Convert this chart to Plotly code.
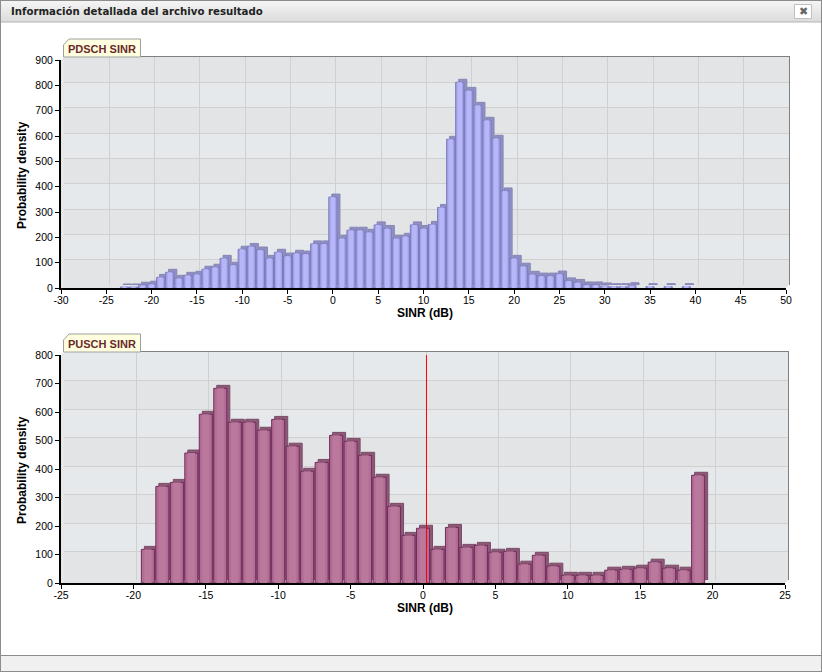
import plotly.graph_objects as go

WINDOW_TITLE = "Información detallada del archivo resultado"
X_TITLE = "SINR (dB)"
Y_TITLE = "Probability density"

# PDSCH SINR histogram
pdsch_sinr = [-23, -22, -21, -20, -19, -18, -17, -16, -15, -14, -13, -12, -11, -10, -9, -8, -7, -6, -5, -4, -3, -2, -1,
              0, 1, 2, 3, 4, 5, 6, 7, 8, 9, 10, 11, 12, 13, 14, 15, 16, 17, 18, 19, 20, 21, 22, 23, 24, 25, 26, 27, 28,
              29, 30, 31, 32, 33, 35, 37, 39]
pdsch_density = [4, 4, 11, 15, 42, 62, 38, 50, 54, 74, 82, 117, 90, 153, 164, 150, 117, 141, 126, 137, 134, 174, 174,
                 359, 196, 228, 228, 220, 249, 235, 196, 204, 249, 235, 251, 318, 587, 812, 780, 721, 662, 591, 383,
                 117, 86, 54, 47, 47, 55, 28, 22, 12, 12, 8, 5, 5, 9, 5, 5, 5]
pdsch_xticks = [-30, -25, -20, -15, -10, -5, 0, 5, 10, 15, 20, 25, 30, 35, 40, 45, 50]
pdsch_xlabels = ["-30", "-25", "-20", "-15", "-10", "-5", "0", "5", "10", "15", "20", "25", "30", "35", "40", "45", "50"]
pdsch_yticks = [0, 100, 200, 300, 400, 500, 600, 700, 800, 900]

# PUSCH SINR histogram
pusch_sinr = [-19, -18, -17, -16, -15, -14, -13, -12, -11, -10, -9, -8, -7, -6, -5, -4, -3, -2, -1,
              0, 1, 2, 3, 4, 5, 6, 7, 8, 9, 10, 11, 12, 13, 14, 15, 16, 17, 18, 19]
pusch_density = [118, 339, 353, 456, 592, 683, 564, 564, 536, 574, 480, 392, 423, 518, 497, 448, 371, 269, 167,
                 192, 118, 195, 125, 132, 108, 111, 66, 97, 59, 27, 27, 27, 45, 48, 52, 73, 52, 45, 378]
pusch_xticks = [-25, -20, -15, -10, -5, 0, 5, 10, 15, 20, 25]
pusch_xlabels = ["-25", "-20", "-15", "-10", "-5", "0", "5", "10", "15", "20", "25"]
pusch_yticks = [0, 100, 200, 300, 400, 500, 600, 700, 800]
pusch_marker_x = [0.24, 0.24]
pusch_marker_y = [0, 810]

W, H = 822, 672
FONT = "Liberation Sans"


def px(x):
    return x / W


def py(y):
    return 1 - y / H


def rect(x0, y0, x1, y1, fill, line=None, width=1):
    return dict(type="rect", xref="paper", yref="paper", x0=px(x0), x1=px(x1), y0=py(y0), y1=py(y1),
                fillcolor=fill, line=dict(color=line or fill, width=width if line else 0), layer="below")


def poly(points, fill, line=None, layer="below"):
    path = "M " + " L ".join(f"{px(a):.5f},{py(b):.5f}" for a, b in points) + " Z"
    return dict(type="path", xref="paper", yref="paper", path=path, fillcolor=fill,
                line=dict(color=line or fill, width=1 if line else 0), layer=layer)


def label(text, x, y, size, color="#000000", family=FONT, angle=0, anchor="center"):
    return dict(text=text, x=px(x), y=py(y), xref="paper", yref="paper", showarrow=False, xanchor=anchor,
                yanchor="middle", textangle=angle, borderpad=0, font=dict(family=family, size=size, color=color))


fig = go.Figure()
shapes = []
annotations = []

# window chrome
shapes.append(rect(0, 0, W, H, "#ffffff"))
for row in range(22):
    v = int(246 - row * 26 / 21)
    shapes.append(rect(1, row, W - 1, row + 1, f"rgb({v},{v},{v})"))
shapes.append(rect(0, 21.5, W, 22.5, "#b4b4b4"))
shapes.append(rect(1, 656, W - 1, 671, "#f0f0f0"))
shapes.append(rect(0, 655, W, 656, "#8c8c8c"))
shapes.append(rect(0, 671, W, 672, "#8c8c8c"))
shapes.append(rect(0, 0, W, 1, "#8c8c8c"))
shapes.append(rect(0, 0, 1, H, "#8c8c8c"))
shapes.append(rect(W - 1, 0, W, H, "#8c8c8c"))
shapes.append(rect(794.5, 4.5, 811.5, 18.5, "#ffffff", "#c0c0c0"))
annotations.append(label("✖", 803, 11.5, 11, "#666666", "DejaVu Sans"))
annotations.append(label(f"<b>{WINDOW_TITLE}</b>", 10, 11.5, 10.2, "#222222", "DejaVu Sans", anchor="left"))


def panel(n, x, y, xticks, xlabels, yticks, tab, tab_top, base, top_px, xr, face, core, edge, back, back_edge):
    wall_x, wall_y = f"x{2 * n - 1}", f"y{2 * n - 1}"
    front_x, front_y = f"x{2 * n}", f"y{2 * n}"
    left, right, bottom = 61, x_right[n], base
    top = top_px

    # bands on the rear wall, alternating between tick values
    for i in range(len(yticks) - 1):
        shapes.append(dict(type="rect", xref=wall_x, yref=wall_y, x0=xticks[0], x1=xticks[-1], y0=yticks[i],
                           y1=yticks[i + 1], fillcolor="#e3e4e6" if i % 2 == 0 else "#e6e9ec",
                           line=dict(width=0), layer="below"))
    # floor and side wall
    shapes.append(poly([(left, bottom), (left + 3, bottom - 3), (right + 3, bottom - 3), (right, bottom)], "#e3e4e6"))
    shapes.append(poly([(left, bottom), (left + 3, bottom - 3), (left + 3, top - 3), (left, top)], "#e6e7e9"))

    fig.add_trace(go.Bar(x=x, y=y, width=0.9, xaxis=wall_x, yaxis=wall_y, showlegend=False,
                         marker=dict(color=back, line=dict(color=back_edge, width=1))))
    fig.add_trace(go.Bar(x=x, y=y, width=0.9, xaxis=front_x, yaxis=front_y, showlegend=False,
                         marker=dict(color=face, line=dict(color=edge, width=1))))
    fig.add_trace(go.Bar(x=x, y=y, width=0.5, xaxis=front_x, yaxis=front_y, showlegend=False,
                         marker=dict(color=core, line=dict(width=0))))

    wall_dom_x = [px(left + 3), px(right + 3)]
    wall_dom_y = [py(bottom - 3), py(top - 3)]
    front_dom_x = [px(left), px(right)]
    front_dom_y = [py(bottom), py(top)]
    key = lambda a: a[0] + "axis" + a[1:]
    common = dict(ticks="", showticklabels=False, showgrid=True, gridcolor="#d0d0d0", gridwidth=1, zeroline=False,
                  showline=True, linecolor="#808080", linewidth=1, automargin=False)
    fig.layout[key(wall_x)] = dict(domain=wall_dom_x, range=xr, tickvals=xticks, side="top", anchor=wall_y, **common)
    fig.layout[key(wall_y)] = dict(domain=wall_dom_y, range=[yticks[0], yticks[-1]], tickvals=yticks, side="right",
                                   anchor=wall_x, **common)
    tick_font = dict(family=FONT, size=10.5, color="#000000")
    fig.layout[key(front_x)] = dict(domain=front_dom_x, range=xr, tickvals=xticks, ticktext=xlabels, anchor=front_y,
                                    ticks="outside", ticklen=4, tickcolor="#000000", tickfont=tick_font, automargin=False,
                                    ticklabelstandoff=-3,
                                    showgrid=False, zeroline=False, showline=True, linecolor="#000000", linewidth=2)
    fig.layout[key(front_y)] = dict(domain=front_dom_y, range=[yticks[0], yticks[-1]], tickvals=yticks, anchor=front_x,
                                    ticks="outside", ticklen=4, tickcolor="#000000", tickfont=tick_font, automargin=False,
                                    showgrid=False, zeroline=False, showline=True, linecolor="#000000", linewidth=2)
    annotations.append(label(f"<b>{X_TITLE}</b>", 425, base + 24.5, 12))
    annotations.append(label(f"<b>{Y_TITLE}</b>", 22, base - 113, 12, angle=-90))

    # tab above the plot
    shapes.append(poly([(63.5, tab_top + 18), (63.5, tab_top + 6), (69, tab_top), (140.5, tab_top), (140.5, tab_top + 18)],
                       "#ffffe0", "#a0a0a0", layer="above"))
    annotations.append(label(f"<b>{tab}</b>", 102, tab_top + 10, 11, "#6b2a2a"))


x_right = {1: 786, 2: 785}
panel(1, pdsch_sinr, pdsch_density, pdsch_xticks, pdsch_xlabels, pdsch_yticks, "PDSCH SINR", 39, 288, 60, [-30, 50],
      "#a2a2ea", "#b6b6f8", "#7c7cba", "#8f8fc2", "#8585b8")
panel(2, pusch_sinr, pusch_density, pusch_xticks, pusch_xlabels, pusch_yticks, "PUSCH SINR", 334, 583, 355, [-25, 25],
      "#b26c95", "#bb789d", "#702c58", "#8a5a76", "#7c4a68")

fig.add_trace(go.Scatter(x=pusch_marker_x, y=pusch_marker_y, mode="lines", xaxis="x4", yaxis="y4", showlegend=False,
                         cliponaxis=False, line=dict(color="#ff0000", width=1)))

fig.update_layout(template="none", width=W, height=H, margin=dict(l=0, r=0, t=0, b=0, autoexpand=False),
                  paper_bgcolor="#ffffff", plot_bgcolor="rgba(0,0,0,0)", barmode="overlay", shapes=shapes,
                  annotations=annotations, font=dict(family=FONT), hovermode=False)
js = """
var s=document.createElement('style');s.textContent='html,body{margin:0!important;padding:0!important;overflow:hidden}';document.head.appendChild(s);
"""
fig.write_html("out.html", post_script=js, config=dict(displayModeBar=False))
